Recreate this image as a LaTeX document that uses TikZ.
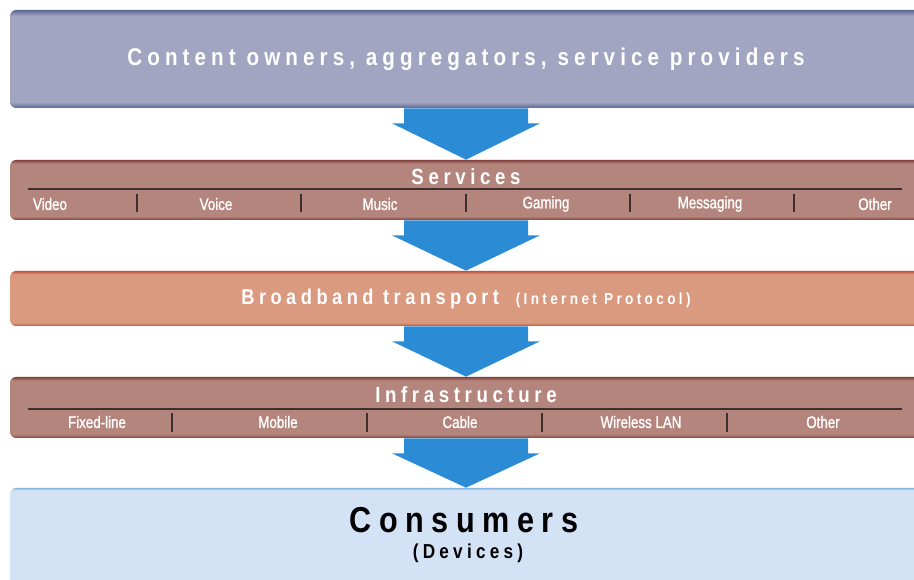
\documentclass[tikz,border=0pt]{standalone}
\usepackage{fontspec}
\setmainfont{Liberation Sans}
\newfontfamily\headfont[FakeStretch=0.85,LetterSpace=21]{Liberation Sans Bold}
\newfontfamily\itemfont[FakeStretch=0.8,FakeBold=1.2]{Liberation Sans}
\usetikzlibrary{calc}
\usetikzlibrary{positioning}

\definecolor{ownersfill}{HTML}{A2A5C2}
\definecolor{ownersedge}{HTML}{5A6893}
\definecolor{layerfill}{HTML}{B4857D}
\definecolor{layeredge}{HTML}{7F3F3A}
\definecolor{ipfill}{HTML}{DA9A80}
\definecolor{ipedge}{HTML}{C8503A}
\definecolor{userfill}{HTML}{D3E2F4}
\definecolor{useredge}{HTML}{8DB7E2}
\definecolor{flowblue}{HTML}{2B8BD4}
\definecolor{rulegray}{HTML}{3E2E2E}

\pgfdeclareverticalshading{ownersband}{100bp}{color(0bp)=(ownersedge); color(25bp)=(ownersedge); color(28bp)=(ownersfill); color(72bp)=(ownersfill); color(75bp)=(ownersedge); color(100bp)=(ownersedge)}
\pgfdeclareverticalshading{layerband}{100bp}{color(0bp)=(layeredge); color(25bp)=(layeredge); color(28bp)=(layerfill); color(72bp)=(layerfill); color(75bp)=(layeredge); color(100bp)=(layeredge)}
\pgfdeclareverticalshading{ipband}{100bp}{color(0bp)=(ipedge); color(25bp)=(ipedge); color(28bp)=(ipfill); color(72bp)=(ipfill); color(75bp)=(ipedge); color(100bp)=(ipedge)}
\pgfdeclareverticalshading{userband}{100bp}{color(0bp)=(useredge); color(25bp)=(userfill); color(74bp)=(userfill); color(75bp)=(useredge); color(100bp)=(useredge)}

\begin{document}
\begin{tikzpicture}
	[
	x=0.02cm, y=0.02cm,
  layer/.style = {rectangle, rounded corners=0.12cm, minimum width=18.24cm, inner sep=0pt},
  title/.style = {text=white, font=\headfont\fontsize{12.5}{14}\selectfont},
  item/.style = {text=white, font=\itemfont\fontsize{9.5}{11}\selectfont},
  flow/.style = {fill=flowblue},
  rule/.style = {draw=rulegray, line width=0.8pt},
  sep/.style = {draw=rulegray, line width=0.8pt}
  ]
	\useasboundingbox (0,0) rectangle (914,580);
	\clip (0,0) rectangle (914,580);

	% the five layers
	\node[layer, minimum height=1.96cm, shading=ownersband, title, font=\headfont\fontsize{13.8}{16}\selectfont] (owners) at (466,521) {Content owners, aggregators, service providers};
	\node[layer, minimum height=1.2cm, shading=layerband] (services) at (466,390) {};
	\node[layer, minimum height=1.1cm, shading=ipband, title, font=\headfont\fontsize{12.2}{15}\selectfont] (broadband) at (466,281.5) {Broadband transport {\fontsize{9.1}{11}\selectfont\ (Internet Protocol)}};
	\node[layer, minimum height=1.22cm, shading=layerband] (infra) at (466,172.5) {};
	\node[layer, minimum height=2.24cm, shading=userband] (consumers) at (466,36) {};

	% services
	\node[title] (services-title) at (466,403) {Services};
	\draw[rule] (28,391) -- (902,391);
	\foreach \name/\x in {Video/50, Voice/216, Music/380, Gaming/546, Messaging/710, Other/875}
		\node[item] (svc-\name) at (\x,376) {\name};
	\foreach \x in {137,301,466,630,794}
		\draw[sep] (\x,386) -- (\x,368);

	% infrastructure
	\node[title] (infra-title) at (466,185) {Infrastructure};
	\draw[rule] (28,171) -- (902,171);
	\foreach \name/\x [count=\i] in {Fixed-line/97, Mobile/278, Cable/460, Wireless LAN/641, Other/823}
		\node[item] (net-\i) at (\x,158) {\name};
	\foreach \x in {172,367,542,727}
		\draw[sep] (\x,167) -- (\x,148);

	% consumers
	\node[font=\headfont\fontsize{20.5}{24}\selectfont] (consumers-title) at (464,60) {Consumers};
	\node[font=\headfont\fontsize{11.5}{13}\selectfont] (devices) at (468,27) {(Devices)};

	% block arrows
	\foreach \a/\b in {owners/services, services/broadband, broadband/infra, infra/consumers}
		\fill[flow] ($(\a.south)+(-62,0)$) -- ($(\a.south)+(62,0)$) -- ($(\a.south)+(62,-15)$) -- ($(\a.south)+(74,-15)$) -- (\b.north) -- ($(\a.south)+(-74,-15)$) -- ($(\a.south)+(-62,-15)$) -- cycle;
	\end{tikzpicture}
\end{document}
